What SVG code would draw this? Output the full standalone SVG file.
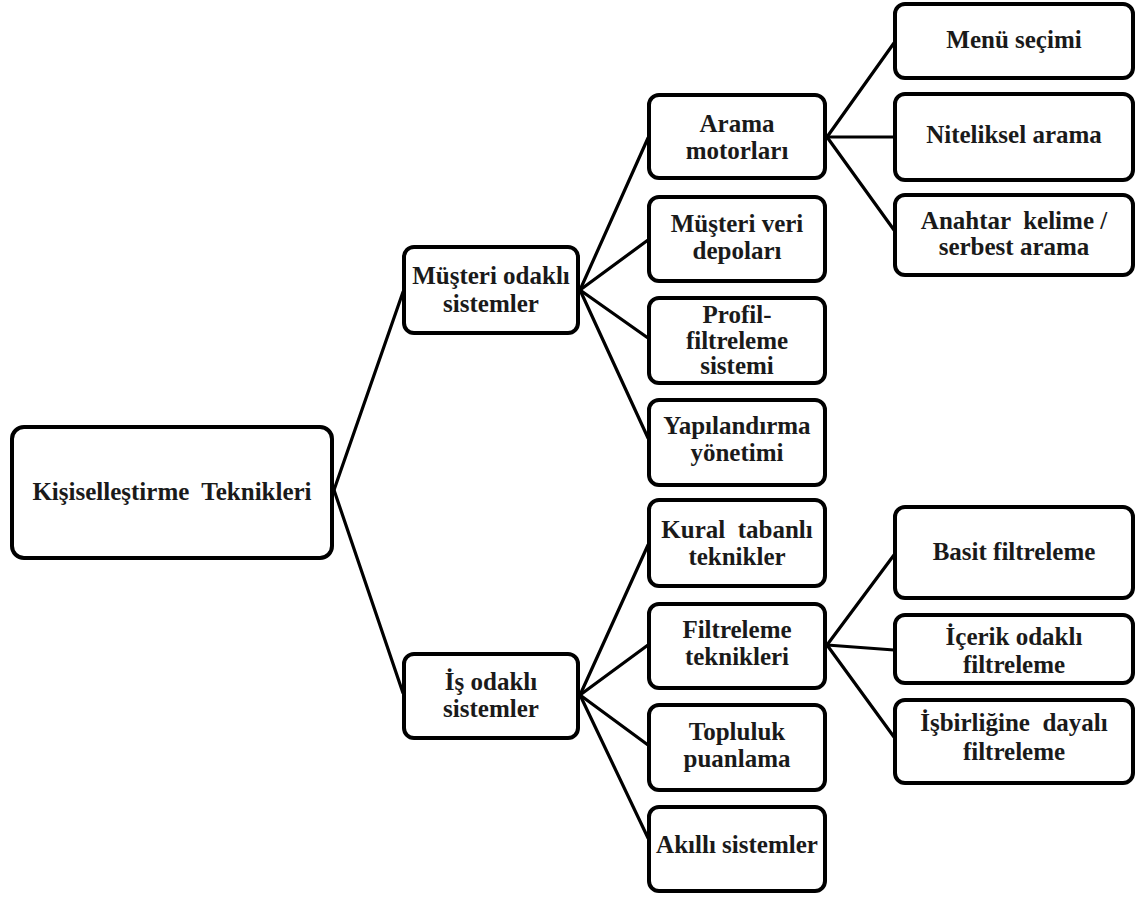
<svg xmlns="http://www.w3.org/2000/svg" width="1136" height="897" viewBox="0 0 1136 897">
<style>
.box{fill:#fff;stroke:#000;stroke-width:4}
.lbl{font-family:"Liberation Serif","Times New Roman",serif;font-weight:bold;font-size:25px;fill:#1a1a1a;text-anchor:middle;white-space:pre}
.con line{stroke:#000;stroke-width:3.2;stroke-linecap:round}
</style>
<rect width="1136" height="897" fill="#fff"/>
<g class="con" id="connectors">
<line x1="334" y1="490" x2="403" y2="292"/>
<line x1="334" y1="490" x2="403" y2="693"/>
<line x1="580" y1="290" x2="648" y2="138"/>
<line x1="580" y1="290" x2="648" y2="240"/>
<line x1="580" y1="290" x2="648" y2="338"/>
<line x1="580" y1="290" x2="648" y2="438"/>
<line x1="580" y1="695" x2="648" y2="545"/>
<line x1="580" y1="695" x2="648" y2="645"/>
<line x1="580" y1="695" x2="648" y2="745"/>
<line x1="580" y1="695" x2="648" y2="838"/>
<line x1="827" y1="137" x2="894" y2="43"/>
<line x1="827" y1="137" x2="894" y2="137"/>
<line x1="827" y1="137" x2="894" y2="230"/>
<line x1="827" y1="645" x2="894" y2="555"/>
<line x1="827" y1="645" x2="894" y2="650"/>
<line x1="827" y1="645" x2="894" y2="737"/>
</g>
<g id="root"><rect class="box" x="12" y="427" width="320" height="131" rx="12"/><text class="lbl" x="172" y="500" xml:space="preserve">Kişiselleştirme  Teknikleri</text></g>
<g id="musteri"><rect class="box" x="404" y="247" width="174" height="86" rx="10"/><text class="lbl" x="491" y="284">Müşteri odaklı</text><text class="lbl" x="491" y="312">sistemler</text></g>
<g id="is"><rect class="box" x="404" y="654" width="174" height="84" rx="10"/><text class="lbl" x="491" y="690">İş odaklı</text><text class="lbl" x="491" y="717">sistemler</text></g>
<g id="arama"><rect class="box" x="649" y="95" width="176" height="83" rx="10"/><text class="lbl" x="737" y="132">Arama</text><text class="lbl" x="737" y="159">motorları</text></g>
<g id="veri"><rect class="box" x="649" y="197" width="176" height="84" rx="10"/><text class="lbl" x="737" y="232">Müşteri veri</text><text class="lbl" x="737" y="259">depoları</text></g>
<g id="profil"><rect class="box" x="649" y="298" width="176" height="85" rx="10"/><text class="lbl" x="737" y="323">Profil-</text><text class="lbl" x="737" y="349">filtreleme</text><text class="lbl" x="737" y="374">sistemi</text></g>
<g id="yapi"><rect class="box" x="649" y="400" width="176" height="85" rx="10"/><text class="lbl" x="737" y="434">Yapılandırma</text><text class="lbl" x="737" y="461">yönetimi</text></g>
<g id="kural"><rect class="box" x="649" y="500" width="176" height="86" rx="10"/><text class="lbl" x="737" y="538" xml:space="preserve">Kural  tabanlı</text><text class="lbl" x="737" y="565">teknikler</text></g>
<g id="filtre"><rect class="box" x="649" y="604" width="176" height="84" rx="10"/><text class="lbl" x="737" y="638">Filtreleme</text><text class="lbl" x="737" y="665">teknikleri</text></g>
<g id="topluluk"><rect class="box" x="649" y="705" width="176" height="85" rx="10"/><text class="lbl" x="737" y="740">Topluluk</text><text class="lbl" x="737" y="767">puanlama</text></g>
<g id="akilli"><rect class="box" x="649" y="807" width="176" height="84" rx="10"/><text class="lbl" x="737" y="853">Akıllı sistemler</text></g>
<g id="menu"><rect class="box" x="895" y="4" width="238" height="74" rx="10"/><text class="lbl" x="1014" y="48">Menü seçimi</text></g>
<g id="nitel"><rect class="box" x="895" y="94" width="238" height="86" rx="10"/><text class="lbl" x="1014" y="143">Niteliksel arama</text></g>
<g id="anahtar"><rect class="box" x="895" y="195" width="238" height="80" rx="10"/><text class="lbl" x="1014" y="229" xml:space="preserve">Anahtar  kelime /</text><text class="lbl" x="1014" y="255">serbest arama</text></g>
<g id="basit"><rect class="box" x="895" y="507" width="238" height="91" rx="10"/><text class="lbl" x="1014" y="560">Basit filtreleme</text></g>
<g id="icerik"><rect class="box" x="895" y="615" width="238" height="68" rx="10"/><text class="lbl" x="1014" y="645">İçerik odaklı</text><text class="lbl" x="1014" y="673">filtreleme</text></g>
<g id="isbirligi"><rect class="box" x="895" y="700" width="238" height="83" rx="10"/><text class="lbl" x="1014" y="731" xml:space="preserve">İşbirliğine  dayalı</text><text class="lbl" x="1014" y="760">filtreleme</text></g>
</svg>
